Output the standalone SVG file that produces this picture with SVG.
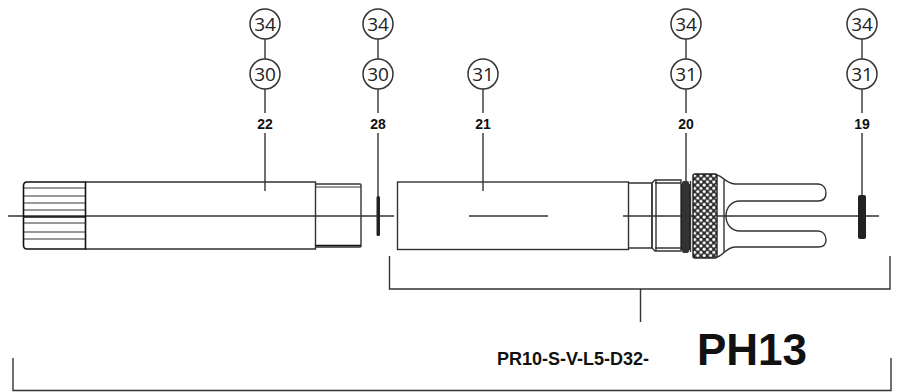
<svg xmlns="http://www.w3.org/2000/svg" width="898" height="392" viewBox="0 0 898 392">
<style>
.l{fill:none;stroke:#333;stroke-width:1.4}
.t{fill:none;stroke:#333;stroke-width:1}
.h{fill:none;stroke:#111;stroke-width:1.6}
.c{fill:#fff;stroke:#333;stroke-width:1.5}
.n{font:19px "Open Sans","Noto Sans",sans-serif;fill:#222;text-anchor:middle}
.b{font:bold 14px "Liberation Sans",Arial,sans-serif;fill:#111;text-anchor:middle}
.p{font-family:"Liberation Sans",Arial,sans-serif;font-weight:bold;fill:#111}
</style>
<defs>
<pattern id="kn" width="6.4" height="6.4" patternUnits="userSpaceOnUse" x="693" y="174">
<rect width="6.4" height="6.4" fill="#2a2a2a"/>
<circle cx="1.6" cy="1.6" r="1.6" fill="#fff"/>
<circle cx="4.8" cy="4.8" r="1.6" fill="#fff"/>
</pattern>
</defs>
<g id="connectors">
<path class="l" d="M265 39V59M265 89V113M265 133V191M378 39V59M378 89V113M378 133V196M483 87V113M483 133V191M686 39V59M686 89V113M686 133V182M862 39V59M862 89V113M862 133V195"/>
<path class="l" d="M8 216H394M469 216H548M623 216H879"/>
<path class="l" d="M389.5 256V289H890V256M640.500 289V322"/>
<path class="l" d="M13 358V390.500H891V358"/>
</g>
<g id="part-22">
<path class="l" d="M85 182H315.500V249H85"/>
<path class="h" d="M85.500 182H27Q23.500 182 23.500 186V245Q23.500 249 27 249H85.500Z"/>
<path class="t" d="M24 188H85M24 196H85M24 203H85M24 210H85M24 223H85M24 232H85M24 239H85"/>
<path class="h" d="M24 217H85"/>
<path class="l" d="M315.500 184H360Q361 184 361 185V246Q361 247 360 247H315.500"/>
<path class="t" d="M316 187H361"/>
<path class="h" d="M316 245.500H361"/>
</g>
<g id="part-28">
<rect x="376.500" y="196" width="3.500" height="40" rx="1.500" fill="#222"/>
</g>
<g id="part-21">
<rect class="l" x="397.500" y="182" width="231" height="67.500"/>
</g>
<g id="part-20">
<path class="l" d="M628.500 183H652V248H628.500"/>
<path class="l" d="M652 183L655 180H681V251H655L652 248ZM656 180V251"/>
<path class="l" d="M655 183H681M655 248H681"/>
<rect x="681" y="184" width="9" height="66" fill="#222"/>
<rect x="682" y="181" width="7" height="72" rx="2" fill="#333"/>
<path class="l" d="M690.500 181V252"/>
<rect x="693" y="174" width="24" height="84" rx="2" fill="url(#kn)" stroke="#222" stroke-width="1.400"/>
<path class="l" d="M717 175C723 176 725 183 735 184H818C823 184 826 188 826 193C826 198 823 201 818 201H740C731 201 726 208 726 216C726 224 731 231 740 231H818C823 231 826 235 826 240C826 245 823 247 818 247H735C725 248 723 256 717 257"/>
<path class="l" d="M724 180V252"/>
</g>
<g id="part-19">
<rect x="858" y="195" width="8" height="44" rx="2" fill="#222"/>
</g>
<g id="balloons">
<circle class="c" cx="265" cy="24" r="15"/><text class="n" x="265" y="31">34</text>
<circle class="c" cx="265" cy="74" r="15"/><text class="n" x="265" y="81">30</text>
<circle class="c" cx="378" cy="24" r="15"/><text class="n" x="378" y="31">34</text>
<circle class="c" cx="378" cy="74" r="15"/><text class="n" x="378" y="81">30</text>
<circle class="c" cx="483" cy="74" r="15"/><text class="n" x="483" y="81">31</text>
<circle class="c" cx="686" cy="24" r="15"/><text class="n" x="686" y="31">34</text>
<circle class="c" cx="686" cy="74" r="15"/><text class="n" x="686" y="81">31</text>
<circle class="c" cx="862" cy="24" r="15"/><text class="n" x="862" y="31">34</text>
<circle class="c" cx="862" cy="74" r="15"/><text class="n" x="862" y="81">31</text>
</g>
<g id="labels">
<text class="b" x="265" y="129">22</text>
<text class="b" x="378" y="129">28</text>
<text class="b" x="483" y="129">21</text>
<text class="b" x="686" y="129">20</text>
<text class="b" x="862" y="129">19</text>
<text class="p" x="497" y="365" font-size="18">PR10-S-V-L5-D32-</text>
<text class="p" x="697" y="365" font-size="44">PH13</text>
</g>
</svg>
